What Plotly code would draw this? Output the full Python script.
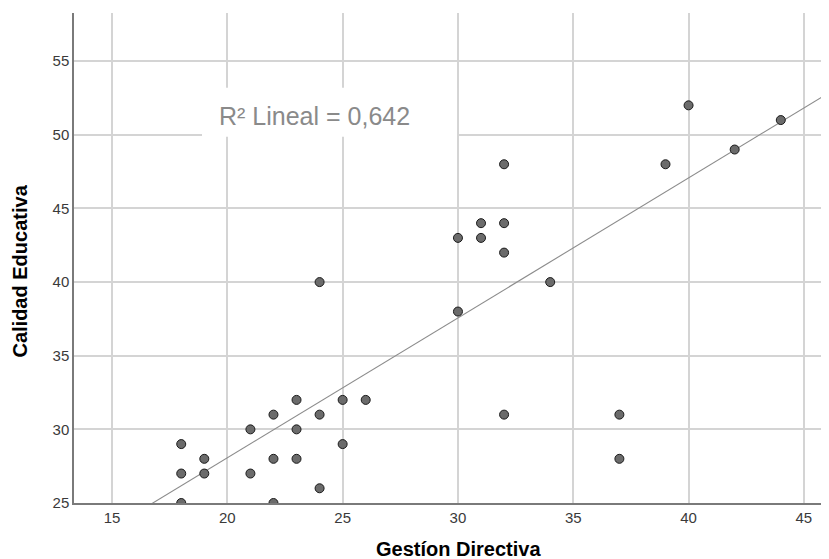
import plotly.graph_objects as go

# ---- data ----
gestion = [18, 18, 18, 19, 19, 21, 21, 22, 22, 22, 23, 23, 23, 24, 24, 24,
           25, 25, 26, 30, 30, 31, 31, 32, 32, 32, 32, 34, 37, 37, 39, 40, 42, 44]
calidad = [29, 27, 25, 28, 27, 30, 27, 31, 28, 25, 32, 30, 28, 40, 31, 26,
           32, 29, 32, 43, 38, 44, 43, 48, 44, 42, 31, 40, 31, 28, 48, 52, 49, 51]

fit_intercept = 9.07
fit_slope = 0.95
r2_label = "R² Lineal = 0,642"

x_ticks = [15, 20, 25, 30, 35, 40, 45]
y_ticks = [25, 30, 35, 40, 45, 50, 55]
x_title = "Gestíon Directiva"
y_title = "Calidad Educativa"

X_RANGE = [13.35, 46.09]
Y_RANGE = [25.0, 58.27]

FONT = "Liberation Sans, Arial"

fig = go.Figure()

line_x = [X_RANGE[0], X_RANGE[1]]
line_y = [fit_intercept + fit_slope * v for v in line_x]
fig.add_trace(go.Scatter(x=line_x, y=line_y, mode="lines",
                         line=dict(color="#8c8c8c", width=1.1),
                         hoverinfo="skip", showlegend=False))

fig.add_trace(go.Scatter(x=gestion, y=calidad, mode="markers",
                         marker=dict(size=9, color="#6b6b6b",
                                     line=dict(color="#1a1a1a", width=1)),
                         showlegend=False))

# white label box covering the grid
fig.add_shape(type="rect", xref="x", yref="y", x0=18.90, x1=29.96,
              y0=49.86, y1=53.19, fillcolor="white", line=dict(width=0),
              layer="between")

fig.add_annotation(x=23.78, y=51.29, xref="x", yref="y", text=r2_label,
                   showarrow=False, font=dict(family=FONT, size=25, color="#8a8a8a"))

fig.add_annotation(x=0, y=0.4724, xref="paper", yref="paper", text=y_title,
                   textangle=-90, showarrow=False, xanchor="center", yanchor="middle",
                   xshift=-54,
                   font=dict(family=FONT, size=20, color="black", weight="bold"))
fig.add_annotation(x=0.5095, y=0, xref="paper", yref="paper", text=x_title,
                   showarrow=False, xanchor="center", yanchor="middle", yshift=-46,
                   font=dict(family=FONT, size=20, color="black", weight="bold"))

axis_common = dict(showgrid=True, gridcolor="#d4d4d4", gridwidth=1.5,
                   zeroline=False, showline=True, linecolor="#7a7a7a", linewidth=1.5,
                   ticks="", tickfont=dict(family=FONT, size=15, color="#3a3a3a"))

fig.update_xaxes(range=X_RANGE, tickmode="array", tickvals=x_ticks,
                 ticktext=[str(v) for v in x_ticks], **axis_common)
fig.update_yaxes(range=Y_RANGE, tickmode="array", tickvals=y_ticks,
                 ticktext=[str(v) for v in y_ticks], **axis_common)

# page body has an 8px margin, so the figure is 821x551 and sits at (8, 8)
fig.update_layout(width=821, height=551, plot_bgcolor="white", paper_bgcolor="white",
                  margin=dict(l=66, r=0, t=5, b=56, autoexpand=False),
                  showlegend=False)

fig.write_html("out.html")
